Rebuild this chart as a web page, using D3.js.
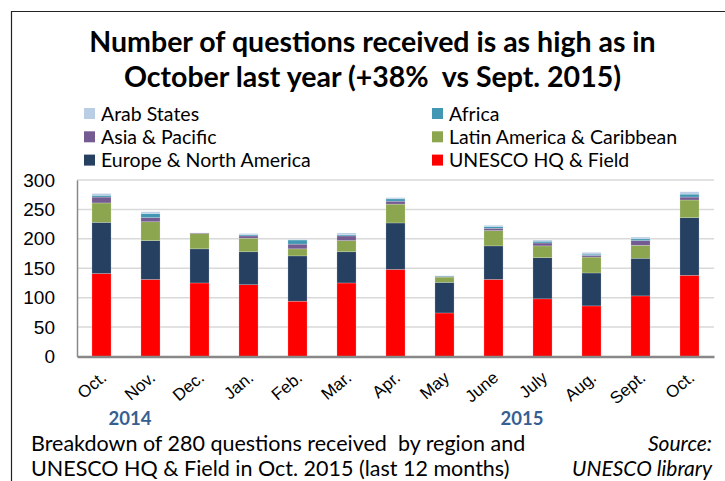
<!DOCTYPE html>
<html>
<head>
<meta charset="utf-8">
<script src="https://cdn.jsdelivr.net/npm/d3@7"></script>
<style>
  body { margin: 0; background: #fff; }
  svg { font-family: Lato, "Open Sans", sans-serif; }
  .grid line { stroke: #d9d9d9; stroke-width: 1.5; }
  .y-axis text, .x-axis text { fill: #000; }
  .pre { white-space: pre; }
</style>
</head>
<body>
<div id="chart"></div>
<script>
/*
* Questions received by region, stacked columns
*/

const months = ['Oct.', 'Nov.', 'Dec.', 'Jan.', 'Feb.', 'Mar.', 'Apr.', 'May', 'June', 'July', 'Aug.', 'Sept.', 'Oct.'];
const regions = ['UNESCO HQ & Field', 'Europe & North America', 'Latin America & Caribbean', 'Asia & Pacific', 'Africa', 'Arab States'];

const hqField   = [141, 131, 125, 122, 94, 125, 148, 74, 131, 98, 86, 103, 138];
const europeNA  = [87, 66, 58, 56, 77, 53, 79, 52, 57, 70, 56, 64, 98];
const latinAm   = [33, 32, 26, 23, 12, 19, 32, 9, 26, 20, 27, 22, 30];
const asiaPac   = [10, 7, 1, 4, 8, 8, 5, 1, 4, 5, 3, 8, 5];
const africa    = [3, 7, 0, 2, 7, 2, 4, 1, 3, 3, 2, 3, 5];
const arabStates = [3, 3, 0, 2, 1, 3, 2, 0, 2, 2, 3, 3, 4];

const yTicks = [0, 50, 100, 150, 200, 250, 300];

const COLORS = {
  'UNESCO HQ & Field': '#FF0000',
  'Europe & North America': '#254061',
  'Latin America & Caribbean': '#8BA64E',
  'Asia & Pacific': '#745C93',
  'Africa': '#4298B2',
  'Arab States': '#B9CDE5'
};

const W = 725, H = 481;
const plot = { left: 77, right: 714, top: 180, bottom: 356.5 };

let series = [hqField, europeNA, latinAm, asiaPac, africa, arabStates];
let rows = months.map(function (m, i) {
  let r = { idx: i, month: m };
  regions.forEach(function (reg, k) { r[reg] = series[k][i]; });
  return r;
});

let svg = d3.select('#chart').append('svg')
  .attr('width', W)
  .attr('height', H);

// outer frame (only top + left edges are in the crop)
svg.append('path')
  .attr('d', 'M11.5,' + H + ' V11.5 H' + W)
  .attr('fill', 'none')
  .attr('stroke', '#222')
  .attr('stroke-width', 1.2);

// title
let title = svg.append('text')
  .attr('class', 'pre')
  .attr('text-anchor', 'middle')
  .style('font-weight', 'bold')
  .style('font-size', '28.5px');
title.append('tspan').attr('x', 372.5).attr('y', 52).text('Number of questions received is as high as in');
title.append('tspan').attr('x', 372.5).attr('y', 87).text('October last year (+38%  vs Sept. 2015)');

// legend
let legendItems = [
  ['Arab States', 0, 0], ['Africa', 1, 0],
  ['Asia & Pacific', 0, 1], ['Latin America & Caribbean', 1, 1],
  ['Europe & North America', 0, 2], ['UNESCO HQ & Field', 1, 2]
];
let lg = svg.append('g').attr('class', 'legend');
legendItems.forEach(function (d) {
  let x = d[1] === 0 ? 84 : 432;
  let y = 113.5 + d[2] * 23.3;
  lg.append('rect')
    .attr('x', x).attr('y', y - 5.5)
    .attr('width', 11).attr('height', 11)
    .attr('fill', COLORS[d[0]]);
  lg.append('text')
    .attr('x', x + 17).attr('y', y)
    .attr('dy', '0.36em')
    .style('font-size', '19.5px')
    .text(d[0]);
});

// scales
let x = d3.scaleBand()
  .domain(d3.range(months.length))
  .range([plot.left, plot.right])
  .paddingInner(0.61)
  .paddingOuter(0.305);

let y = d3.scaleLinear()
  .domain([0, 300])
  .range([plot.bottom, plot.top]);

// gridlines
svg.append('g')
  .attr('class', 'grid')
  .selectAll('line')
  .data(yTicks.slice(1))
  .enter().append('line')
  .attr('x1', plot.left).attr('x2', plot.right)
  .attr('y1', function (d) { return y(d); })
  .attr('y2', function (d) { return y(d); });

// stacked bars
let stack = d3.stack().keys(regions);
svg.append('g')
  .selectAll('g')
  .data(stack(rows))
  .enter().append('g')
  .attr('fill', function (d) { return COLORS[d.key]; })
  .selectAll('rect')
  .data(function (d) { return d; })
  .enter().append('rect')
  .attr('x', function (d) { return x(d.data.idx); })
  .attr('width', x.bandwidth())
  .attr('y', function (d) { return y(d[1]); })
  .attr('height', function (d) { return y(d[0]) - y(d[1]); })
  .attr('stroke', 'rgba(255,255,255,0.35)')
  .attr('stroke-width', 0.6);

// y axis
let yAxis = svg.append('g')
  .attr('class', 'y-axis')
  .attr('transform', 'translate(' + plot.left + ',0)')
  .call(d3.axisLeft(y).tickValues(yTicks).tickSize(0).tickPadding(22));
yAxis.select('.domain').attr('stroke', '#888').attr('stroke-width', 1.5);
yAxis.selectAll('text').style('font-size', '19px');

// x axis
let xAxis = svg.append('g')
  .attr('class', 'x-axis')
  .attr('transform', 'translate(0,' + plot.bottom + ')')
  .call(d3.axisBottom(x).tickFormat(function (i) { return months[i]; }).tickSize(0).tickPadding(0));
xAxis.select('.domain').attr('stroke', '#888').attr('stroke-width', 2.5);
xAxis.selectAll('text')
  .style('font-size', '17px')
  .attr('text-anchor', 'end')
  .attr('dy', 0)
  .attr('transform', 'translate(6,23) rotate(-40)');

// year labels, centred between two months
let years = [['2014', 0], ['2015', 8]];
svg.selectAll('.year')
  .data(years)
  .enter().append('text')
  .attr('class', 'year')
  .attr('x', function (d) { return (x(d[1]) + x(d[1] + 1) + x.bandwidth()) / 2 + 4; })
  .attr('y', 425)
  .attr('text-anchor', 'middle')
  .style('font-weight', 'bold')
  .style('font-size', '18.5px')
  .attr('fill', '#376092')
  .text(function (d) { return d[0]; });

// caption
let cap = svg.append('text').attr('class', 'pre').style('font-size', '21.5px');
cap.append('tspan').attr('x', 31).attr('y', 451).text('Breakdown of 280 questions received  by region and');
cap.append('tspan').attr('x', 31).attr('y', 476).text('UNESCO HQ & Field in Oct. 2015 (last 12 months)');

let src = svg.append('text')
  .attr('text-anchor', 'end')
  .style('font-size', '21px')
  .style('font-style', 'italic');
src.append('tspan').attr('x', 712).attr('y', 451).text('Source:');
src.append('tspan').attr('x', 712).attr('y', 476).text('UNESCO library');
</script>
</body>
</html>
